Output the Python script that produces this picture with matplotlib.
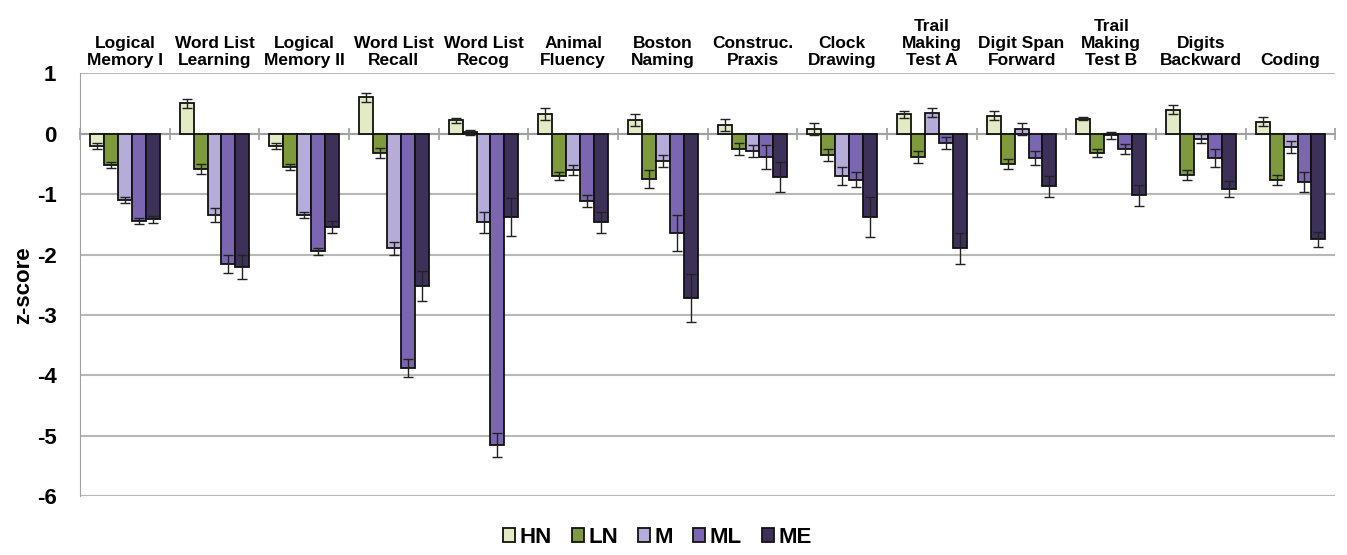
import numpy as np
import matplotlib
matplotlib.use('Agg')
import matplotlib.pyplot as plt

plt.rcParams['font.family'] = ['Liberation Sans', 'DejaVu Sans']
plt.rcParams['font.weight'] = 'bold'

tests = ["Logical\nMemory I", "Word List\nLearning", "Logical\nMemory II",
         "Word List\nRecall", "Word List\nRecog", "Animal\nFluency",
         "Boston\nNaming", "Construc.\nPraxis", "Clock\nDrawing",
         "Trail\nMaking\nTest A", "Digit Span\nForward", "Trail\nMaking\nTest B",
         "Digits\nBackward", "Coding"]
groups = ["HN", "LN", "M", "ML", "ME"]

hn = [-0.20, 0.50, -0.20, 0.60, 0.22, 0.32, 0.22, 0.15, 0.07, 0.32, 0.30, 0.25, 0.40, 0.20]
ln = [-0.52, -0.58, -0.55, -0.32, 0.02, -0.70, -0.75, -0.25, -0.35, -0.38, -0.50, -0.32, -0.68, -0.77]
m = [-1.10, -1.35, -1.35, -1.90, -1.47, -0.60, -0.45, -0.28, -0.70, 0.35, 0.08, -0.03, -0.08, -0.22]
ml = [-1.45, -2.15, -1.95, -3.88, -5.15, -1.12, -1.65, -0.38, -0.76, -0.15, -0.40, -0.25, -0.40, -0.80]
me = [-1.42, -2.20, -1.55, -2.52, -1.38, -1.47, -2.72, -0.72, -1.38, -1.90, -0.87, -1.02, -0.92, -1.75]

hn_err = [0.05, 0.08, 0.05, 0.08, 0.04, 0.10, 0.10, 0.10, 0.10, 0.06, 0.08, 0.02, 0.08, 0.08]
ln_err = [0.05, 0.08, 0.05, 0.08, 0.04, 0.06, 0.15, 0.10, 0.10, 0.10, 0.08, 0.06, 0.08, 0.08]
m_err = [0.05, 0.12, 0.05, 0.10, 0.17, 0.08, 0.10, 0.10, 0.15, 0.08, 0.10, 0.06, 0.08, 0.10]
ml_err = [0.05, 0.15, 0.05, 0.15, 0.20, 0.10, 0.30, 0.20, 0.12, 0.10, 0.12, 0.08, 0.15, 0.17]
me_err = [0.06, 0.20, 0.10, 0.25, 0.32, 0.17, 0.40, 0.25, 0.33, 0.25, 0.17, 0.17, 0.13, 0.13]

values = [hn, ln, m, ml, me]
errors = [hn_err, ln_err, m_err, ml_err, me_err]
colors = ["#e3ebc6", "#7e9a3c", "#b5acd9", "#7b67b1", "#3e3159"]

fig = plt.figure(figsize=(13.47, 5.55), dpi=100)
ax = fig.add_axes([0.0594, 0.106, 0.932, 0.762])

x = np.arange(len(tests))
w = 0.155
for i, (vals, errs, col) in enumerate(zip(values, errors, colors)):
    pos = x + (i - 2) * w
    ax.bar(pos, vals, w, color=col, edgecolor="#111111", linewidth=1.3,
           label=groups[i], zorder=3)
    ax.errorbar(pos, vals, yerr=errs, fmt="none", ecolor="#222222",
                elinewidth=1.0, capsize=3.5, capthick=1.0, zorder=4)

ax.set_xlim(-0.5, len(tests) - 0.5)
ax.set_ylim(-6, 1)
ax.set_yticks(range(-6, 2))
ax.set_yticklabels([str(v) for v in range(-6, 2)], fontsize=16, fontweight='bold')
ax.tick_params(axis='y', length=0, pad=17)
ax.yaxis.grid(True, color="#b8b8b8", linewidth=1.5, zorder=0)
ax.set_ylabel("z-score", fontsize=16, fontweight='bold', labelpad=2)

for s in ['top', 'right']:
    ax.spines[s].set_visible(False)
ax.spines['left'].set_color("#a0a0a0")
ax.spines['bottom'].set_position(('data', 0))
ax.spines['bottom'].set_color("#a0a0a0")
ax.spines['bottom'].set_linewidth(1.5)
ax.set_xticks(np.arange(len(tests) + 1) - 0.5)
ax.set_xticklabels([])
ax.tick_params(axis='x', direction='inout', length=8, color="#a0a0a0", width=1.2)

sec = ax.secondary_xaxis('top')
sec.set_xticks(x)
sec.set_xticklabels(tests, fontsize=12.5, fontweight='bold', linespacing=1.15)
sec.tick_params(length=0, pad=4)
sec.spines['top'].set_visible(False)

fig.legend(loc='center', bbox_to_anchor=(0.488, 0.032), ncol=5, frameon=False,
           prop={'weight': 'bold', 'size': 16}, handlelength=0.55, handleheight=0.55,
           handletextpad=0.2, columnspacing=0.9)

fig.savefig("out.png", dpi=100)
